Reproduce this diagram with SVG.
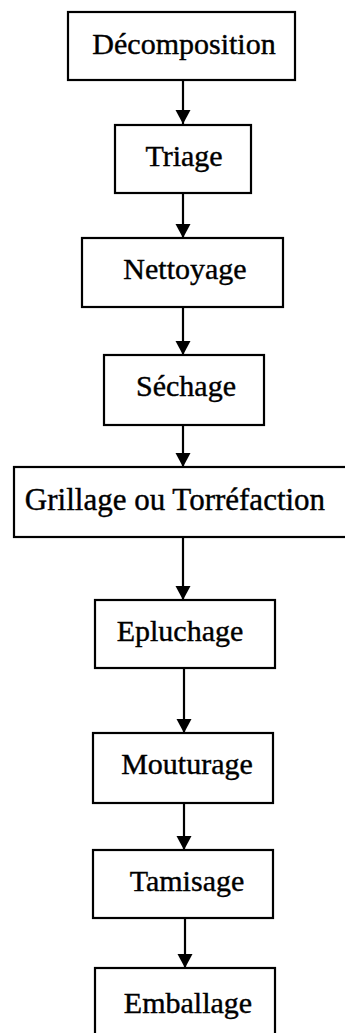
<svg xmlns="http://www.w3.org/2000/svg" width="345" height="1033" viewBox="0 0 345 1033">
<style>
.box{fill:#fff;stroke:#000;stroke-width:2.2}
.lbl{font-family:"Liberation Serif","Times New Roman",serif;font-size:30px;fill:#000;stroke:#000;stroke-width:0.4;text-anchor:middle}
.conn{stroke:#000;stroke-width:2.2;fill:none}
</style>
<defs>
<marker id="ah" markerUnits="userSpaceOnUse" markerWidth="16" markerHeight="16" viewBox="0 0 16 16" refX="14" refY="8" orient="auto">
<path d="M0,0.5 L14,8 L0,15.5 Z" fill="#000"/>
</marker>
</defs>
<rect width="345" height="1033" fill="#fff"/>
<g id="connectors">
<line class="conn" x1="183" y1="80" x2="183" y2="124" marker-end="url(#ah)"/>
<line class="conn" x1="183" y1="193" x2="183" y2="238" marker-end="url(#ah)"/>
<line class="conn" x1="183" y1="307" x2="183" y2="355" marker-end="url(#ah)"/>
<line class="conn" x1="183" y1="425" x2="183" y2="467" marker-end="url(#ah)"/>
<line class="conn" x1="183" y1="537" x2="183" y2="600" marker-end="url(#ah)"/>
<line class="conn" x1="184" y1="668" x2="184" y2="733" marker-end="url(#ah)"/>
<line class="conn" x1="184" y1="803" x2="184" y2="850" marker-end="url(#ah)"/>
<line class="conn" x1="185" y1="918" x2="185" y2="968" marker-end="url(#ah)"/>
</g>
<g id="n1"><rect class="box" x="68" y="12" width="227" height="68"/><text class="lbl" x="184" y="54">Décomposition</text></g>
<g id="n2"><rect class="box" x="115" y="125" width="136" height="68"/><text class="lbl" x="184" y="166">Triage</text></g>
<g id="n3"><rect class="box" x="82" y="238" width="201" height="69"/><text class="lbl" x="185" y="279">Nettoyage</text></g>
<g id="n4"><rect class="box" x="104" y="355" width="160" height="70"/><text class="lbl" x="186" y="396">Séchage</text></g>
<g id="n5"><rect class="box" x="14" y="467" width="334" height="70"/><text class="lbl" x="175" y="510" style="font-size:31px">Grillage ou Torréfaction</text></g>
<g id="n6"><rect class="box" x="95" y="600" width="180" height="68"/><text class="lbl" x="180" y="641">Epluchage</text></g>
<g id="n7"><rect class="box" x="93" y="733" width="180" height="70"/><text class="lbl" x="187" y="774">Mouturage</text></g>
<g id="n8"><rect class="box" x="93" y="850" width="180" height="68"/><text class="lbl" x="187" y="891">Tamisage</text></g>
<g id="n9"><rect class="box" x="95" y="968" width="180" height="70"/><text class="lbl" x="188" y="1013">Emballage</text></g>
</svg>
